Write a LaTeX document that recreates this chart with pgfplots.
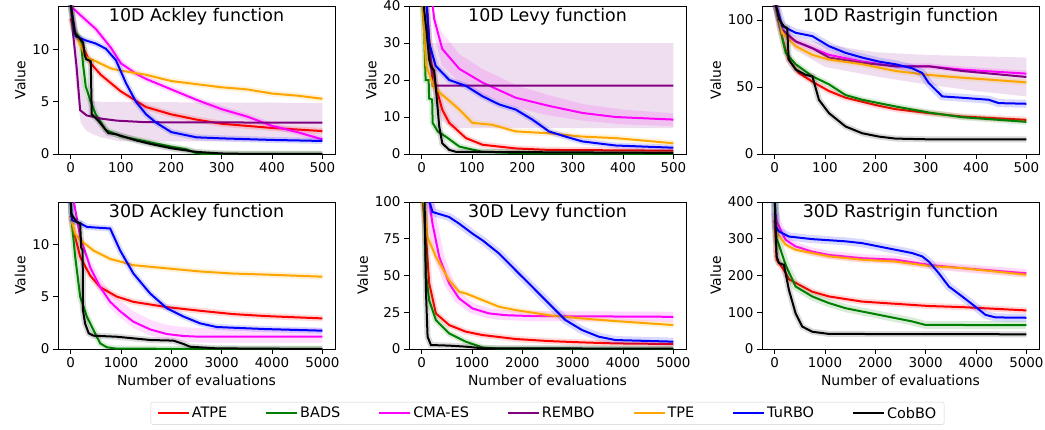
\documentclass[border=0pt]{standalone}
\usepackage{fontspec}
\setmainfont{DejaVu Sans}
\usepackage{pgfplots}
\pgfplotsset{compat=1.18}

\definecolor{cATPE}{RGB}{255,0,0}
\definecolor{cBADS}{RGB}{0,128,0}
\definecolor{cCMA}{RGB}{255,0,255}
\definecolor{cREMBO}{RGB}{128,0,128}
\definecolor{cTPE}{RGB}{255,165,0}
\definecolor{cTuRBO}{RGB}{0,0,255}
\definecolor{cCob}{RGB}{0,0,0}

\pgfplotsset{
  panel/.style={
    scale only axis, width=277bp, height=148bp,
    axis line style={line width=0.8bp},
    tick align=outside, xtick pos=bottom, ytick pos=left,
    major tick length=5bp, tick style={black, line width=0.8bp},
    ticklabel style={font=\fontsize{13.5}{16}\selectfont},
    /pgf/number format/assume math mode=true,
    /pgf/number format/1000 sep={}, scaled ticks=false,
    ylabel=Value, ylabel style={font=\fontsize{14}{16}\selectfont},
    xlabel style={font=\fontsize{14}{16}\selectfont},
    title style={at={(0.5,1)}, anchor=north, yshift=-8bp, inner sep=0pt,
      font=\fontsize{17.5}{20}\selectfont},
    ymin=0,
    every axis plot/.append style={line width=2bp},
  },
  top/.style={panel, xmin=-25, xmax=525, xtick={0,100,...,500}},
  bot/.style={panel, height=147bp, xmin=-250, xmax=5250, xtick={0,1000,...,5000},
    xlabel=Number of evaluations},
  ci/.style={preaction={draw, line width=#1, opacity=0.15}},
  ci/.default=6bp,
  band/.style={fill=#1, fill opacity=0.13, draw=none, forget plot},
}

\begin{document}
\begin{tikzpicture}
\useasboundingbox (0,0) rectangle (1045bp,-430bp);

% ---------- 10D Ackley
\begin{axis}[top, at={(58bp,-6bp)}, anchor=north west, ymax=14.2, ytick={0,5,10},
  title={10D Ackley function}]
\addplot[band=cREMBO] coordinates {(0,14.2)(10,12)(20,8)(30,5.6)(40,5.1)(60,5)(500,4.9)
  (500,1.2)(100,1.2)(80,1.4)(60,1.6)(40,2.0)(30,2.3)(20,3.0)(15,5)(10,7)(0,14)} -- cycle;
\addplot[cATPE, ci] coordinates {(0,13)(10,11.5)(20,10.7)(40,8.7)(60,7.6)(100,6.0)(150,4.5)(200,3.8)(250,3.3)(300,2.9)(400,2.5)(500,2.2)};
\addplot[cBADS, ci] coordinates {(0,14.5)(5,12)(20,11)(25,8.5)(30,6.5)(40,5)(50,3.8)(70,2.3)(100,1.7)(150,1.2)(200,0.7)(230,0.45)(245,0.15)(260,0.02)(500,0)};
\addplot[cCMA, ci] coordinates {(0,14.2)(20,13.3)(50,12.0)(80,10.2)(100,8.7)(130,7.7)(150,7.2)(200,6.2)(250,5.2)(300,4.3)(350,3.6)(400,2.7)(450,2.1)(500,1.4)};
\addplot[cREMBO] coordinates {(0,14.5)(5,11.5)(12,8.3)(19,4.2)(32,3.7)(60,3.4)(92,3.2)(150,3.05)(500,3.0)};
\addplot[cTPE, ci] coordinates {(0,14.5)(10,11.5)(30,9.3)(50,8.9)(80,8.2)(100,8.0)(150,7.6)(200,7.0)(250,6.7)(300,6.4)(350,6.2)(400,5.8)(450,5.6)(500,5.3)};
\addplot[cTuRBO, ci] coordinates {(0,14.5)(10,11.3)(30,10.9)(50,10.6)(70,10.1)(90,9.0)(110,6.8)(130,5.0)(150,3.8)(170,3.0)(200,2.1)(250,1.6)(300,1.5)(400,1.35)(500,1.25)};
\addplot[cCob, ci] coordinates {(0,14.5)(8,11.6)(25,10.7)(28,9.5)(31,9.1)(40,8.9)(42,3.8)(55,3.2)(65,2.6)(75,2.0)(90,1.9)(110,1.6)(130,1.3)(160,0.95)(200,0.55)(250,0.2)(300,0.05)(350,0.01)(500,0)};
\end{axis}

% ---------- 10D Levy
\begin{axis}[top, at={(409bp,-6bp)}, anchor=north west, ymax=40, ytick={0,10,...,40},
  title={10D Levy function}]
\addplot[band=cREMBO] coordinates {(10,40)(15,30)(500,30)(500,7)(60,7)(40,9)(30,12)(20,18)(10,35)} -- cycle;
\addplot[band=cCMA] coordinates {(20,40)(40,33)(75,27)(120,23)(190,18.5)(250,16)(320,13.5)(400,12)(500,11)
  (500,7.5)(400,8)(320,9)(250,10.5)(190,12.5)(120,16)(75,19.5)(40,24)(25,32)} -- cycle;
\addplot[cATPE, ci] coordinates {(8,45)(18,25.6)(28,18.4)(41,12)(55,8.4)(88,4.3)(121,2.5)(187,1.5)(253,1.1)(500,0.9)};
\addplot[cBADS, ci] coordinates {(0,45)(5,33)(8,20)(14,20)(15,15)(21,14.7)(22,8.4)(32,6.1)(48,4.7)(75,2.0)(120,0.6)(200,0.2)(500,0)};
\addplot[cCMA] coordinates {(18,45)(25,36.5)(41,28.4)(75,23)(121,19.3)(187,15.2)(253,13)(319,11.1)(385,10)(500,9.3)};
\addplot[cREMBO] coordinates {(8,45)(15,30)(22,18.5)(500,18.5)};
\addplot[cTPE, ci] coordinates {(0,45)(9,24)(25,17.9)(48,15.2)(75,12)(101,8.4)(140,7.9)(187,6.1)(253,5.6)(319,4.7)(385,4.3)(500,2.9)};
\addplot[cTuRBO, ci] coordinates {(8,45)(15,30)(28,23.8)(55,20)(88,18.4)(121,15.6)(154,13.4)(187,12)(220,9.3)(253,6.1)(286,4.7)(319,3.4)(385,2.3)(500,1.7)};
\addplot[cCob, ci] coordinates {(0,45)(10,33)(15,25.6)(18,23.8)(25,22.5)(28,18.4)(35,7.5)(41,2.9)(55,1.1)(68,0.6)(200,0.5)(500,0.3)};
\end{axis}

% ---------- 10D Rastrigin
\begin{axis}[top, at={(762bp,-6bp)}, anchor=north west, ymax=110.5, ytick={0,50,100},
  title={10D Rastrigin function}]
\addplot[band=cREMBO] coordinates {(10,100)(40,88)(100,82)(200,76)(300,74)(400,73)(500,72)
  (500,43)(400,47)(300,52)(200,58)(100,65)(40,78)(10,95)} -- cycle;
\addplot[cATPE, ci] coordinates {(0,115)(10,95)(20,80)(28,70.5)(48,60.5)(75,54)(108,47)(141,42)(174,39)(207,36)(240,33.5)(306,30.5)(372,28)(500,25.5)};
\addplot[cBADS, ci] coordinates {(0,115)(10,95)(22,75.5)(42,67)(75,58)(108,52)(141,44)(174,40.5)(240,35.5)(306,31)(372,27.5)(500,24)};
\addplot[cCMA, ci] coordinates {(0,115)(15,90.5)(42,84)(108,74)(174,69)(240,65.5)(306,65.5)(372,63)(500,60)};
\addplot[cREMBO] coordinates {(0,115)(15,93)(42,84)(75,79)(108,72)(174,68)(240,65.5)(306,65.5)(372,62)(500,57.5)};
\addplot[cTPE, ci] coordinates {(0,115)(15,90.5)(42,80.5)(75,74)(108,70.5)(174,67)(240,62)(306,59)(372,57)(500,53.5)};
\addplot[cTuRBO, ci=8bp] coordinates {(0,115)(15,95.5)(42,90.5)(75,88)(108,80.5)(141,75.5)(174,72)(207,69)(240,67)(273,64)(293,60.5)(306,53)(333,43)(372,42)(425,40.5)(445,38)(500,37.5)};
\addplot[cCob, ci] coordinates {(0,115)(9,100.5)(18,95.5)(25,94)(28,70.5)(42,63)(62,59)(75,58)(88,40.5)(108,30.5)(141,20.5)(174,15.5)(207,13)(240,11.5)(300,11)(500,11)};
\end{axis}

% ---------- 30D Ackley
\begin{axis}[bot, at={(58bp,-202bp)}, anchor=north west, ymax=14.03, ytick={0,5,10},
  title={30D Ackley function}]
\addplot[band=cCMA] coordinates {(60,14.2)(190,11.2)(390,8.5)(588,6.8)(786,5.5)(984,4.6)(1248,3.6)(1579,2.8)(1909,2.3)(2240,2.1)(2570,2.0)(5000,2.0)
  (5000,0.6)(2570,0.6)(2240,0.7)(1909,0.9)(1579,1.3)(1248,2.0)(984,3.0)(786,3.9)(588,5.3)(390,7.2)(190,10.2)(60,14)} -- cycle;
\addplot[cATPE, ci] coordinates {(0,12.7)(60,11.3)(190,8.8)(390,7.0)(588,5.9)(918,5.0)(1248,4.5)(1909,4.0)(2570,3.65)(3230,3.33)(3890,3.14)(5000,2.92)};
\addplot[cBADS, ci] coordinates {(0,14)(26,12)(92,8.8)(190,5)(323,3.1)(455,1.8)(588,0.54)(720,0.16)(918,0.03)(5000,0)};
\addplot[cCMA] coordinates {(60,14.2)(190,10.7)(390,7.8)(588,5.9)(786,4.5)(984,3.6)(1248,2.6)(1579,1.87)(1909,1.43)(2240,1.24)(2570,1.17)(5000,1.17)};
\addplot[cTPE, ci] coordinates {(0,12.6)(92,11)(190,10.4)(455,9.4)(786,8.6)(1248,8.0)(1909,7.7)(2570,7.4)(3230,7.2)(3890,7.1)(5000,6.9)};
\addplot[cTuRBO, ci] coordinates {(0,14.5)(26,12.3)(190,12)(323,11.65)(786,11.5)(984,9.4)(1248,7.2)(1579,5.3)(1909,3.9)(2240,3.1)(2570,2.45)(2900,2.1)(3230,2.03)(3890,1.9)(5000,1.75)};
\addplot[cCob, ci] coordinates {(0,15)(13,12.9)(125,12.1)(190,12.0)(210,9.7)(240,9.4)(245,3.7)(290,2.4)(360,1.5)(455,1.27)(918,1.17)(1580,0.86)(2040,0.8)(2240,0.48)(2370,0.22)(2900,0.06)(5000,0)};
\end{axis}

% ---------- 30D Levy (holds the legend)
\begin{axis}[bot, at={(409bp,-202bp)}, anchor=north west, ymax=100, ytick={0,25,...,100},
  title={30D Levy function},
  legend style={at={(0.5,-0.36)}, anchor=north, legend columns=7, draw=black!18,
    rounded corners=2bp, inner xsep=6bp, inner ysep=3bp,
    font=\fontsize{14.5}{17}\selectfont,
    /tikz/every even column/.append style={column sep=36bp}},
  legend image code/.code={\draw[#1] (0bp,0bp) -- (31bp,0bp);}]
\addlegendimage{cATPE, line width=2bp}
\addlegendimage{cBADS, line width=2bp}
\addlegendimage{cCMA, line width=2bp}
\addlegendimage{cREMBO, line width=2bp}
\addlegendimage{cTPE, line width=2bp}
\addlegendimage{cTuRBO, line width=2bp}
\addlegendimage{cCob, line width=2bp}
\addplot[cATPE, ci] coordinates {(0,110)(100,70)(152,44.6)(284,24.2)(547,16.3)(877,11.8)(1207,9.5)(1867,6.8)(2526,5.4)(3186,4.5)(3846,3.8)(5000,3.4)};
\addplot[cBADS, ci] coordinates {(0,110)(60,90)(86,51)(152,33)(284,19.7)(547,10.6)(877,5)(1207,1.1)(1500,0.3)(5000,0)};
\addplot[cCMA, ci=10bp] coordinates {(150,101)(218,85)(350,62.7)(547,44.6)(745,34.4)(1009,27.6)(1339,24.2)(1669,23)(2197,22.4)(5000,21.9)};
\addplot[cTPE, ci] coordinates {(0,110)(50,99)(119,76)(284,62.7)(547,46.8)(745,39)(877,37.8)(1207,33.3)(1537,28.7)(1867,26.5)(2526,23)(3186,20.8)(3846,19)(5000,16.3)};
\addplot[cTuRBO, ci=8bp] coordinates {(150,101)(218,93.2)(547,89.8)(745,85.3)(1009,78.5)(1207,74)(1537,65)(1867,53.6)(2197,42.3)(2526,31)(2856,19.7)(3186,12.9)(3516,8.4)(3846,6.1)(5000,5.0)};
\addplot[cCob, ci] coordinates {(0,110)(60,100)(86,40)(119,8.4)(185,2.7)(547,2.3)(877,1.6)(1207,0.5)(5000,0.2)};
\legend{ATPE,BADS,CMA-ES,REMBO,TPE,TuRBO,CobBO}
\end{axis}

% ---------- 30D Rastrigin
\begin{axis}[bot, at={(762bp,-202bp)}, anchor=north west, ymax=400, ytick={0,100,...,400},
  title={30D Rastrigin function}]
\addplot[cATPE, ci] coordinates {(0,350)(40,243)(185,215)(284,190)(417,180)(747,156)(1078,143)(1739,129)(2401,123)(3062,117)(3724,114)(5000,105)};
\addplot[cBADS, ci=8bp] coordinates {(0,420)(40,300)(86,284)(218,229)(417,170)(747,143)(1078,125)(1409,111)(1739,102)(2070,93)(2401,84)(2731,75)(2996,65.5)(5000,65)};
\addplot[cCMA, ci=8bp] coordinates {(0,370)(53,343)(218,297)(417,279)(747,265)(1078,256)(1739,247)(2401,243)(3062,229)(3724,220)(5000,206)};
\addplot[cTPE, ci] coordinates {(0,361)(53,315)(218,284)(417,270)(747,261)(1078,252)(1739,243)(2401,238)(3062,226)(3724,220)(5000,202)};
\addplot[cTuRBO, ci=8bp] coordinates {(0,420)(20,334)(86,320)(284,306)(747,299)(1409,293)(1739,288)(2070,279)(2401,270)(2731,261)(2930,252)(3062,238)(3261,206)(3460,170)(3724,143)(3988,115)(4187,93)(4385,86)(5000,85)};
\addplot[cCob, ci] coordinates {(0,420)(40,252)(86,234)(185,229)(284,161)(417,97)(549,61)(747,47)(1078,41)(5000,40)};
\end{axis}
\end{tikzpicture}
\end{document}
